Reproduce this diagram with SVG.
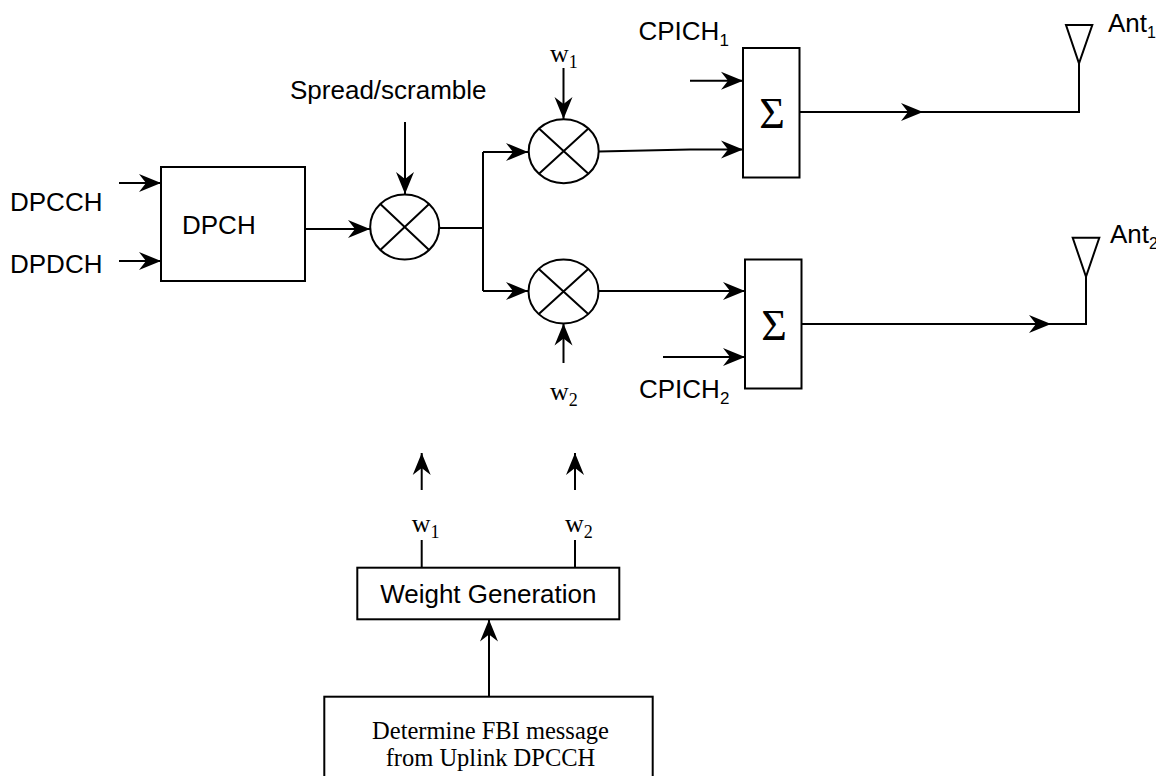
<svg xmlns="http://www.w3.org/2000/svg" width="1156" height="776" viewBox="0 0 1156 776">
<style>
.s{fill:none;stroke:#000;stroke-width:2}
.b{fill:#fff;stroke:#000;stroke-width:2}
.a{font-family:"Liberation Sans",Arial,sans-serif;font-size:26px;fill:#000}
.t{font-family:"Liberation Serif","Times New Roman",serif;fill:#000}
</style>
<defs>
<marker id="ar" markerUnits="userSpaceOnUse" markerWidth="24" markerHeight="20" refX="22" refY="9" orient="auto" overflow="visible">
<path d="M0,0 L22,9 L0,18 L7,9 z" fill="#000"/>
</marker>
</defs>
<rect width="1156" height="776" fill="#fff"/>

<g id="connectors">
<path class="s" d="M119,183 H161" marker-end="url(#ar)"/>
<path class="s" d="M119,261 H161" marker-end="url(#ar)"/>
<path class="s" d="M296,229 H370" marker-end="url(#ar)"/>
<path class="s" d="M405,122 V194" marker-end="url(#ar)"/>
<path class="s" d="M439,228 H483 M483,152 V291"/>
<path class="s" d="M483,152 H528" marker-end="url(#ar)"/>
<path class="s" d="M483,291 H528" marker-end="url(#ar)"/>
<path class="s" d="M563.5,68 V119" marker-end="url(#ar)"/>
<path class="s" d="M563.5,363 V323.5" marker-end="url(#ar)"/>
<path class="s" d="M599,151.5 L690,149.5 L743,149.5" marker-end="url(#ar)"/>
<path class="s" d="M690,80.7 H743" marker-end="url(#ar)"/>
<path class="s" d="M598.5,291 H745" marker-end="url(#ar)"/>
<path class="s" d="M663,357 H745" marker-end="url(#ar)"/>
<path class="s" d="M799,112 H923" marker-end="url(#ar)"/>
<path class="s" d="M923,112 H1079 V63"/>
<path class="s" d="M801,324 H1051" marker-end="url(#ar)"/>
<path class="s" d="M1051,324 H1086 V277"/>
<path class="s" d="M421.7,490 V453" marker-end="url(#ar)"/>
<path class="s" d="M575,490 V453" marker-end="url(#ar)"/>
<path class="s" d="M421.7,540 V568"/>
<path class="s" d="M575,540 V568"/>
<path class="s" d="M489,697 V619.5" marker-end="url(#ar)"/>
</g>

<g id="inputs">
<text class="a" x="10" y="211">DPCCH</text>
<text class="a" x="10" y="273">DPDCH</text>
<text class="a" x="290" y="99">Spread/scramble</text>
</g>

<g id="dpch">
<rect class="b" x="161" y="167" width="144" height="114"/>
<text class="a" x="182" y="234">DPCH</text>
</g>

<g id="mixer-spread">
<ellipse class="s" cx="404.7" cy="227" rx="34.5" ry="32.5"/>
<path class="s" d="M380.3,204 L429.1,250 M429.1,204 L380.3,250"/>
</g>

<g id="mixer-w1">
<ellipse class="s" cx="563.7" cy="151.2" rx="35" ry="32"/>
<path class="s" d="M539,128.6 L588.4,173.8 M588.4,128.6 L539,173.8"/>
<text class="t" x="550" y="62" font-size="26">w<tspan font-size="18" dy="6">1</tspan></text>
</g>

<g id="mixer-w2">
<ellipse class="s" cx="563.5" cy="291.5" rx="35" ry="32"/>
<path class="s" d="M538.8,268.9 L588.2,314.1 M588.2,268.9 L538.8,314.1"/>
<text class="t" x="550" y="400" font-size="26">w<tspan font-size="18" dy="6">2</tspan></text>
</g>

<g id="sum1">
<rect class="b" x="743" y="48" width="56.5" height="129.5"/>
<text class="t" x="772" y="127.5" font-size="44" text-anchor="middle">Σ</text>
<text class="a" x="638.5" y="39.5" font-size="25">CPICH<tspan font-size="17" dy="6">1</tspan></text>
</g>

<g id="sum2">
<rect class="b" x="745" y="259.5" width="56.5" height="129"/>
<text class="t" x="774" y="339.5" font-size="44" text-anchor="middle">Σ</text>
<text class="a" x="639" y="398" font-size="25">CPICH<tspan font-size="17" dy="6">2</tspan></text>
</g>

<g id="ant1">
<path class="s" d="M1066,25 H1092.3 L1079,63.3 Z"/>
<text class="a" x="1108" y="32" font-size="24">Ant<tspan font-size="16" dy="6">1</tspan></text>
</g>

<g id="ant2">
<path class="s" d="M1072.7,237.7 H1099.3 L1086,276.7 Z"/>
<text class="a" x="1110" y="243" font-size="24">Ant<tspan font-size="16" dy="6">2</tspan></text>
</g>

<g id="weight-generation">
<rect class="b" x="357.3" y="567.7" width="262" height="51.6"/>
<text class="a" x="488.3" y="603.3" text-anchor="middle">Weight Generation</text>
<text class="t" x="411.7" y="532" font-size="26">w<tspan font-size="18" dy="6">1</tspan></text>
<text class="t" x="565" y="532" font-size="26">w<tspan font-size="18" dy="6">2</tspan></text>
</g>

<g id="fbi">
<rect class="b" x="324.3" y="696.7" width="328.4" height="100"/>
<text class="t" x="490.5" y="739" font-size="24.5" text-anchor="middle">Determine FBI message</text>
<text class="t" x="490.5" y="766" font-size="24.5" text-anchor="middle">from Uplink DPCCH</text>
</g>
</svg>
